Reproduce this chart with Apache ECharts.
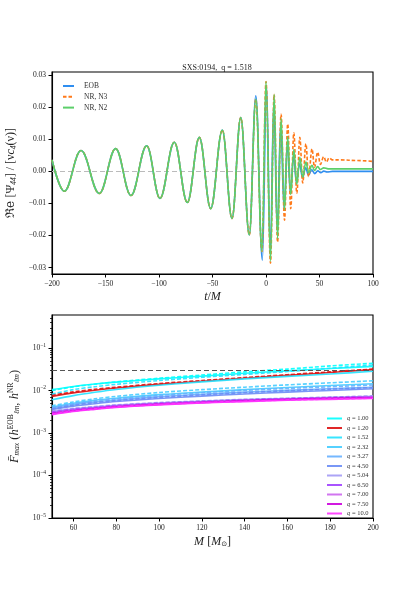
<!DOCTYPE html>
<html><head><meta charset="utf-8">
<script src="https://cdn.jsdelivr.net/npm/echarts@6/dist/echarts.min.js"></script>
<style>html,body{margin:0;padding:0;background:#fff}#c{width:415px;height:593px}</style>
</head><body><div id="c"></div>
<script>
const FONT = 'Liberation Serif';

// ---------- Top panel: Re[Psi44]/[nu c4(nu)] vs t/M (extrema) ----------
const inspiralT = [-200, -188.5, -172.9, -155.8, -140.5, -126.2, -111.5, -99.1, -85.7, -73.5, -62.3, -51.7, -40.8, -31.8, -23.6, -15.6];
const inspiralV = [0.0036, -0.0062, 0.0065, -0.0069, 0.0071, -0.0075, 0.0080, -0.0084, 0.0091, -0.0097, 0.0106, -0.0116, 0.0129, -0.0147, 0.0168, -0.0198];

const eobT = [-9.5, -3.4, 0.5, 4.0, 7.3, 10.5, 13.7, 16.9, 19.9, 22.8, 25.7, 28.5, 31.3, 34.2, 37.0, 39.8, 42.7, 45.5, 48.4, 51.2, 54.0, 57.0, 62.0, 100];
const eobV = [0.0236, -0.0277, 0.0268, -0.0255, 0.0215, -0.0185, 0.0148, -0.0118, 0.0088, -0.0068, 0.0048, -0.0036, 0.0024, -0.0020, 0.0011, -0.0012, 0.0005, -0.0007, 0.0002, -0.0004, 0.0001, -0.0002, 0, 0];

const n3T = [-9.5, -3.8, 0.0, 4.2, 7.6, 10.8, 14.1, 17.3, 20.3, 23.1, 26.0, 28.8, 31.6, 34.3, 37.3, 39.8, 43.0, 45.3, 48.3, 50.8, 53.9, 56.4, 59.0, 62.0, 70.0, 85.0, 100];
const n3V = [0.0225, -0.0250, 0.0280, -0.0286, 0.0240, -0.0220, 0.0178, -0.0152, 0.0148, -0.0116, 0.0120, -0.0068, 0.0106, -0.0036, 0.0086, -0.0016, 0.0070, 0.0013, 0.0060, 0.0022, 0.0046, 0.0029, 0.0042, 0.0036, 0.0036, 0.0034, 0.0031];

const n2T = [-9.5, -3.8, 0.0, 4.2, 7.6, 10.8, 14.1, 17.3, 20.3, 23.1, 26.0, 28.8, 31.6, 34.3, 37.3, 39.8, 43.0, 45.3, 48.3, 50.8, 54.0, 58.0, 100];
const n2V = [0.0225, -0.0250, 0.0280, -0.0280, 0.0240, -0.0210, 0.0165, -0.0120, 0.0108, -0.0072, 0.0068, -0.0040, 0.0044, -0.0018, 0.0029, -0.0004, 0.0019, 0.0003, 0.0015, 0.0006, 0.0011, 0.0008, 0.0008];

const topNames = ['EOB', 'NR, N3', 'NR, N2'];
const topXTicks = [-200, -150, -100, -50, 0, 50, 100];
const topRefLine = 0;

// ---------- Bottom panel: mismatch vs total mass ----------
const massM = [50, 60, 70, 80, 100, 120, 140, 160, 180, 200];
const qLabels = ['1.00', '1.20', '1.52', '2.32', '3.27', '4.50', '5.04', '6.50', '7.00', '7.50', '10.0'];

const f_q100 = [0.0105, 0.0125, 0.0142, 0.0158, 0.0188, 0.0218, 0.0255, 0.0290, 0.0330, 0.0370];
const f_q120 = [0.0073, 0.0088, 0.0102, 0.0115, 0.0140, 0.0165, 0.0195, 0.0228, 0.0265, 0.0310];
const f_q152 = [0.0061, 0.0076, 0.0091, 0.0106, 0.0133, 0.0160, 0.0188, 0.0215, 0.0245, 0.0285];
const f_q232 = [0.0041, 0.0050, 0.0059, 0.0066, 0.0080, 0.0092, 0.0105, 0.0118, 0.0131, 0.0144];
const f_q327 = [0.0039, 0.0047, 0.0054, 0.0060, 0.0072, 0.0082, 0.0092, 0.0101, 0.0110, 0.0120];
const f_q450 = [0.0036, 0.0043, 0.0049, 0.0055, 0.0065, 0.0074, 0.0083, 0.0092, 0.0100, 0.0110];
const f_q504 = [0.0032, 0.0037, 0.0041, 0.0045, 0.0051, 0.0056, 0.0061, 0.0065, 0.0069, 0.0073];
const f_q650 = [0.0030, 0.0035, 0.0039, 0.0043, 0.0049, 0.0054, 0.0059, 0.0063, 0.0067, 0.0071];
const f_q700 = [0.0029, 0.0034, 0.0038, 0.0042, 0.0048, 0.0053, 0.0058, 0.0062, 0.0066, 0.0069];
const f_q750 = [0.0028, 0.0033, 0.0037, 0.0041, 0.0047, 0.0052, 0.0057, 0.0061, 0.0065, 0.0067];
const f_q1000 = [0.0027, 0.0032, 0.0036, 0.0040, 0.0046, 0.0051, 0.0055, 0.0059, 0.0062, 0.0065];

const fd_q100 = [0.0100, 0.0122, 0.0141, 0.0160, 0.0195, 0.0232, 0.0275, 0.0320, 0.0380, 0.0440];
const fd_q120 = [0.0078, 0.0093, 0.0107, 0.0120, 0.0146, 0.0172, 0.0202, 0.0236, 0.0275, 0.0320];
const fd_q152 = [0.0083, 0.0105, 0.0123, 0.0140, 0.0172, 0.0205, 0.0240, 0.0280, 0.0335, 0.0400];
const fd_q232 = [0.0044, 0.0054, 0.0064, 0.0073, 0.0090, 0.0105, 0.0120, 0.0136, 0.0152, 0.0170];
const fd_q327 = [0.0040, 0.0049, 0.0057, 0.0064, 0.0077, 0.0089, 0.0101, 0.0112, 0.0123, 0.0135];
const fd_q450 = [0.0037, 0.0045, 0.0052, 0.0058, 0.0069, 0.0079, 0.0089, 0.0099, 0.0108, 0.0118];
const fd_q504 = [0.0033, 0.0038, 0.0042, 0.0046, 0.0052, 0.0057, 0.0062, 0.0066, 0.0070, 0.0075];
const fd_q650 = [0.0031, 0.0036, 0.0040, 0.0044, 0.0050, 0.0055, 0.0060, 0.0064, 0.0068, 0.0072];
const fd_q700 = [0.0030, 0.0035, 0.0039, 0.0043, 0.0049, 0.0054, 0.0059, 0.0063, 0.0067, 0.0070];
const fd_q750 = [0.0029, 0.0034, 0.0038, 0.0042, 0.0048, 0.0053, 0.0058, 0.0062, 0.0066, 0.0068];
const fd_q1000 = [0.0028, 0.0033, 0.0037, 0.0041, 0.0047, 0.0052, 0.0056, 0.0060, 0.0063, 0.0066];

const bottomRefLine = 0.03;
const bottomXTicks = [60, 80, 100, 120, 140, 160, 180, 200];

// ---------- Styles ----------
const topColors = ['#2f8ef0', '#ff7a1a', '#5ccf6a'];
const qColors = ['#00ffff', '#dd1111', '#22e2ff', '#44ccff', '#66b0ff', '#6a8cf5', '#a39af5', '#a040ff', '#cc66ee', '#cc00dd', '#ff33ff'];

const solidSets = [f_q100, f_q120, f_q152, f_q232, f_q327, f_q450, f_q504, f_q650, f_q700, f_q750, f_q1000];
const dashedSets = [fd_q100, fd_q120, fd_q152, fd_q232, fd_q327, fd_q450, fd_q504, fd_q650, fd_q700, fd_q750, fd_q1000];

const pair = (xs, ys) => xs.map((x, i) => [x, ys[i]]);
const minus = s => String(s).replace('-', '\u2212');

const series = [];
const topT = [inspiralT.concat(eobT), inspiralT.concat(n3T), inspiralT.concat(n2T)];
const topV = [inspiralV.concat(eobV), inspiralV.concat(n3V), inspiralV.concat(n2V)];
topNames.forEach((nm, k) => {
  series.push({
    name: nm, type: 'line', xAxisIndex: 0, yAxisIndex: 0,
    data: pair(topT[k], topV[k]),
    showSymbol: false, symbol: 'none', smooth: 0.38, smoothMonotone: 'x',
    lineStyle: { color: topColors[k], width: 1.6, type: k === 1 ? [3.5, 2] : 'solid' },
    itemStyle: { color: topColors[k] },
    z: 3 + k,
    markLine: k === 0 ? {
      silent: true, symbol: 'none', label: { show: false },
      lineStyle: { color: '#bbbbbb', type: [5, 3], width: 1.2 },
      data: [{ yAxis: topRefLine }], z: 1
    } : undefined
  });
});

qLabels.forEach((q, k) => {
  series.push({
    name: 'q = ' + q, type: 'line', xAxisIndex: 1, yAxisIndex: 1,
    data: pair(massM, solidSets[k]),
    showSymbol: false, symbol: 'none', smooth: 0.3,
    lineStyle: { color: qColors[k], width: 1.6, opacity: 0.9 },
    itemStyle: { color: qColors[k] },
    markLine: k === 0 ? {
      silent: true, symbol: 'none', label: { show: false },
      lineStyle: { color: '#555555', type: [5, 3], width: 1.2 },
      data: [{ yAxis: bottomRefLine }]
    } : undefined
  });
  series.push({
    name: 'q = ' + q + ' dashed', type: 'line', xAxisIndex: 1, yAxisIndex: 1,
    data: pair(massM, dashedSets[k]),
    showSymbol: false, symbol: 'none', smooth: 0.3,
    lineStyle: { color: qColors[k], width: 1.6, type: [4, 2], opacity: 0.9 },
    itemStyle: { color: qColors[k] }
  });
});

// minor tick positions for the log axis (axis decoration only)
const minorTicks = [];
for (let e = -5; e <= -1; e++) for (let m = 2; m <= 9; m++) { const v = m * Math.pow(10, e); if (v <= 0.6) minorTicks.push(v); }

const axisText = { fontFamily: FONT, fontSize: 7.5, color: '#222' };

const option = {
  animation: false,
  backgroundColor: '#fff',
  title: {
    text: 'SXS:0194,  q = 1.518', left: 212, top: 59, textAlign: 'center',
    textStyle: { fontFamily: FONT, fontSize: 8, fontWeight: 'normal', color: '#222' }
  },
  legend: [
    {
      data: topNames, orient: 'vertical', left: 57, top: 77,
      itemWidth: 11, itemHeight: 8, itemGap: 2.8,
      itemStyle: { opacity: 0 },
      textStyle: { fontFamily: FONT, fontSize: 7.5, color: '#333', padding: [0, 0, 0, 5] }
    },
    {
      data: qLabels.map(q => 'q = ' + q), orient: 'vertical', left: 321, top: 410,
      itemWidth: 15, itemHeight: 7, itemGap: 2.5,
      itemStyle: { opacity: 0 },
      lineStyle: { width: 2 },
      formatter: n => '{i|q}{t|' + n.slice(1) + '}',
      textStyle: {
        fontFamily: FONT, fontSize: 6.5, color: '#333',
        rich: { i: { fontFamily: FONT, fontStyle: 'italic', fontSize: 6.5, color: '#333' }, t: { fontFamily: FONT, fontSize: 6.5, color: '#333' } }
      }
    }
  ],
  grid: [
    { left: 52, top: 72, width: 321, height: 202, show: true, borderColor: '#000', borderWidth: 1.1, backgroundColor: 'transparent', containLabel: false, outerBoundsMode: 'none' },
    { left: 52, top: 315, width: 321, height: 203, show: true, borderColor: '#000', borderWidth: 1.1, backgroundColor: 'transparent', containLabel: false, outerBoundsMode: 'none' }
  ],
  xAxis: [
    {
      gridIndex: 0, type: 'value', min: topXTicks[0], max: topXTicks[topXTicks.length - 1], interval: 50,
      axisLine: { onZero: false, lineStyle: { color: '#000', width: 1.1 } },
      axisTick: { inside: false, length: 3.5, lineStyle: { color: '#000' } },
      axisLabel: Object.assign({ margin: 6, formatter: v => minus(v) }, axisText),
      splitLine: { show: false },
      name: '{i|t}{n|/}{i|M}', nameLocation: 'middle', nameGap: 17,
      nameTextStyle: { rich: { i: { fontFamily: FONT, fontStyle: 'italic', fontSize: 12, color: '#222' }, n: { fontFamily: FONT, fontSize: 12, color: '#222' } } }
    },
    {
      gridIndex: 1, type: 'value', min: 50, max: bottomXTicks[bottomXTicks.length - 1], splitNumber: 7,
      axisLine: { onZero: false, lineStyle: { color: '#000', width: 1.1 } },
      axisTick: { inside: false, length: 3.5, lineStyle: { color: '#000' } },
      axisLabel: Object.assign({ margin: 6, showMinLabel: false }, axisText),
      splitLine: { show: false },
      name: '{i|M} {n|[}{i|M}{s|⊙}{n|]}', nameLocation: 'middle', nameGap: 17,
      nameTextStyle: { rich: {
        i: { fontFamily: FONT, fontStyle: 'italic', fontSize: 12, color: '#222' },
        n: { fontFamily: FONT, fontSize: 12, color: '#222' },
        s: { fontFamily: 'DejaVu Sans', fontSize: 7, color: '#222', padding: [6, 0, 0, 0] } } }
    }
  ],
  yAxis: [
    {
      gridIndex: 0, type: 'value', min: -0.032, max: 0.031, splitNumber: 6,
      axisLine: { show: true, onZero: false, lineStyle: { color: '#000', width: 1.1 } },
      axisTick: { show: true, inside: false, length: 3.5, lineStyle: { color: '#000' } },
      axisLabel: Object.assign({ margin: 6, showMinLabel: false, showMaxLabel: false,
        formatter: v => Math.abs(v) < 1e-9 ? '0.00' : minus(v.toFixed(2)) }, axisText),
      splitLine: { show: false },
      name: '{f|ℜe} {n|[Ψ}{s|44}{n|] / [ν}{i|c}{s|4}{n|(ν)]}', nameLocation: 'middle', nameGap: 33, nameRotate: 90,
      nameTextStyle: { rich: {
        f: { fontFamily: 'DejaVu Serif', fontSize: 12, color: '#222' },
        n: { fontFamily: FONT, fontSize: 12, color: '#222' },
        i: { fontFamily: FONT, fontStyle: 'italic', fontSize: 12, color: '#222' },
        s: { fontFamily: FONT, fontStyle: 'italic', fontSize: 7.5, color: '#222', padding: [5, 0, 0, 0] } } }
    },
    {
      gridIndex: 1, type: 'log', logBase: 10, min: 1e-5, max: 0.6,
      axisLine: { show: true, onZero: false, lineStyle: { color: '#000', width: 1.1 } },
      axisTick: { show: true, inside: false, length: 3.5, lineStyle: { color: '#000' } },
      axisLabel: {
        margin: 6, showMaxLabel: false, fontFamily: FONT, fontSize: 7.5, color: '#222',
        formatter: v => '{b|10}{s|\u2212' + Math.abs(Math.round(Math.log10(v))) + '}',
        rich: { b: { fontFamily: FONT, fontSize: 7.5, color: '#222' }, s: { fontFamily: FONT, fontSize: 5.5, color: '#222', padding: [0, 0, 5, 0] } }
      },
      splitLine: { show: false },
      name: '{f|F̄}{s|max} {n|(}{i|h}{p|EOB}{s|ℓm}{n|,} {i|h}{p|NR}{s|ℓm}{n|)}', nameLocation: 'middle', nameGap: 30, nameRotate: 90,
      nameTextStyle: { rich: {
        f: { fontFamily: FONT, fontStyle: 'italic', fontSize: 12.5, color: '#222' },
        i: { fontFamily: FONT, fontStyle: 'italic', fontSize: 12.5, color: '#222' },
        n: { fontFamily: FONT, fontSize: 12.5, color: '#222' },
        p: { fontFamily: FONT, fontSize: 7.5, color: '#222', padding: [0, 0, 7, 0] },
        s: { fontFamily: FONT, fontStyle: 'italic', fontSize: 7.5, color: '#222', padding: [6, 0, 0, 0] } } }
    },
    {
      gridIndex: 1, type: 'log', logBase: 10, min: 1e-5, max: 0.6, position: 'left',
      axisLine: { show: false, onZero: false },
      axisTick: { show: true, inside: false, length: 2, lineStyle: { color: '#000', width: 0.8 }, customValues: minorTicks },
      axisLabel: { show: false },
      splitLine: { show: false }
    }
  ],
  series: series
};

const chart = echarts.init(document.getElementById('c'), null, { renderer: 'canvas' });
chart.setOption(option);
</script>
</body></html>
